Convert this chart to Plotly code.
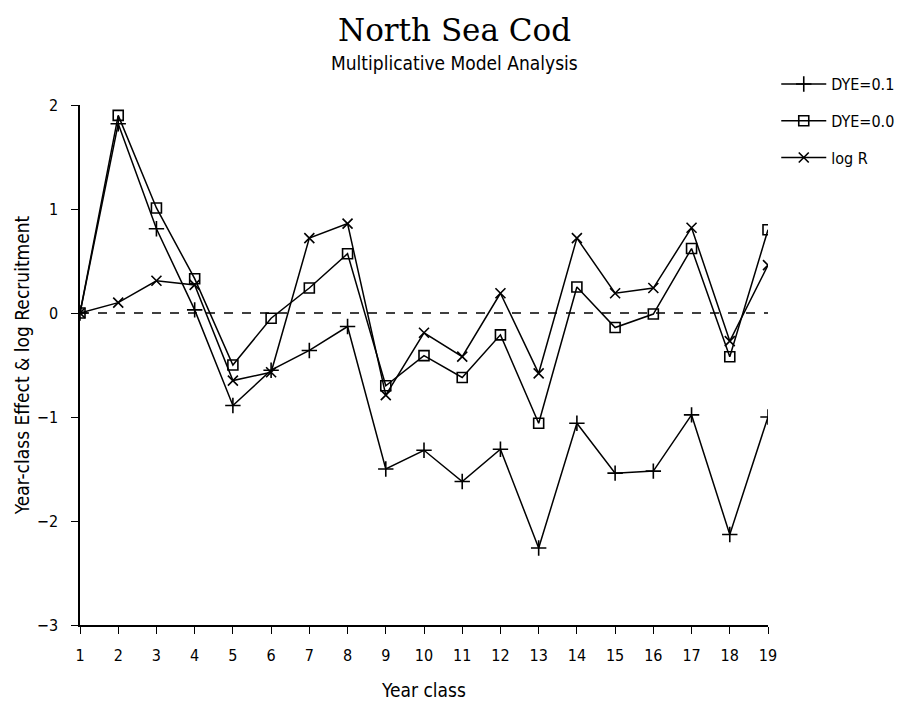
import plotly.graph_objects as go

year_class = list(range(1, 20))
dye_01 = [0.0, 1.82, 0.81, 0.03, -0.89, -0.55, -0.36, -0.13, -1.50, -1.32,
          -1.62, -1.31, -2.26, -1.06, -1.54, -1.52, -0.98, -2.13, -1.00]
dye_00 = [0.0, 1.90, 1.01, 0.33, -0.50, -0.05, 0.24, 0.57, -0.70, -0.41,
          -0.62, -0.21, -1.06, 0.25, -0.14, -0.01, 0.62, -0.42, 0.80]
log_r = [0.0, 0.10, 0.31, 0.27, -0.65, -0.57, 0.72, 0.86, -0.79, -0.19,
         -0.42, 0.19, -0.58, 0.72, 0.19, 0.24, 0.82, -0.27, 0.46]
y_ticks = [-3, -2, -1, 0, 1, 2]

FONT = "Liberation Sans Narrow, DejaVu Sans Condensed, Arial Narrow, sans-serif"

fig = go.Figure()
series = [
    ("DYE=0.1", dye_01, "cross-thin", 11),
    ("DYE=0.0", dye_00, "square-open", 10),
    ("log R", log_r, "x-thin", 10),
]
for i, (name, vals, sym, sz) in enumerate(series):
    fig.add_trace(go.Scatter(
        x=year_class, y=vals, name=name, mode="lines+markers",
        legendgroup=f"g{i}",
        line=dict(color="black", width=1.5),
        marker=dict(symbol=sym, size=sz, color="black",
                    line=dict(color="black", width=1.6)),
    ))

fig.add_shape(type="line", xref="x", yref="y", x0=1, x1=19, y0=0, y1=0,
              line=dict(color="black", width=1.3, dash="dash"), layer="below")

fig.update_layout(
    width=915, height=708,
    margin=dict(l=80, r=147, t=105, b=83),
    paper_bgcolor="white", plot_bgcolor="white",
    font=dict(family=FONT, color="black", size=15),
    showlegend=True,
    legend=dict(x=1.012, y=1.073, xanchor="left", yanchor="top",
                tracegroupgap=13, itemwidth=45,
                font=dict(size=16, family=FONT),
                bgcolor="rgba(0,0,0,0)"),
    xaxis=dict(range=[1, 19], tickmode="array", tickvals=year_class,
               ticks="outside", ticklen=7, tickwidth=1.3, tickcolor="black",
               ticklabelstandoff=8, automargin=False,
               showline=True, linecolor="black", linewidth=1.5,
               showgrid=False, zeroline=False,
               tickfont=dict(size=16, family=FONT),
               title=dict(text="Year class", font=dict(size=19, family=FONT),
                          standoff=20)),
    yaxis=dict(range=[-3, 2], tickmode="array", tickvals=y_ticks,
               ticktext=["\u22123", "\u22122", "\u22121", "0", "1", "2"],
               ticks="outside", ticklen=7, tickwidth=1.3, tickcolor="black",
               ticklabelstandoff=10, automargin=False,
               showline=True, linecolor="black", linewidth=1.5,
               showgrid=False, zeroline=False,
               tickfont=dict(size=16, family=FONT),
               title=dict(text="Year-class Effect & log Recruitment",
                          font=dict(size=19, family=FONT), standoff=2)),
    annotations=[
        dict(text="North Sea Cod", xref="paper", yref="paper",
             x=0.545, y=1.0, yshift=75, xanchor="center", yanchor="middle",
             showarrow=False,
             font=dict(family="DejaVu Serif, Liberation Serif, serif", size=31)),
        dict(text="Multiplicative Model Analysis", xref="paper", yref="paper",
             x=0.545, y=1.0, yshift=42, xanchor="center", yanchor="middle",
             showarrow=False, font=dict(family=FONT, size=19)),
    ],
)

fig.write_html("out.html")
